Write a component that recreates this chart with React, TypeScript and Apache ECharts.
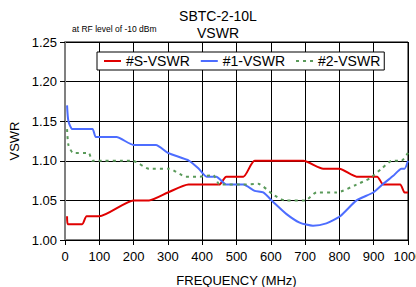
import React, { useEffect, useRef } from "react";
import * as echarts from "echarts";

const sFreq = [6, 8, 50, 63, 100, 200, 245, 300, 360, 400, 450, 470, 520, 553, 695, 753, 800, 850, 910, 928, 977, 990, 1000];
const sVswr = [1.03, 1.02, 1.02, 1.03, 1.03, 1.05, 1.05, 1.06, 1.07, 1.07, 1.07, 1.08, 1.08, 1.10, 1.10, 1.09, 1.09, 1.08, 1.08, 1.07, 1.07, 1.06, 1.06];

const oneFreq = [6, 10, 22, 80, 90, 150, 200, 265, 300, 362, 390, 413, 441, 470, 520, 553, 578, 607, 645, 684, 723, 762, 802, 850, 899, 928, 957, 981, 990, 1000];
const oneVswr = [1.17, 1.15, 1.14, 1.14, 1.13, 1.13, 1.12, 1.12, 1.11, 1.10, 1.09, 1.08, 1.08, 1.07, 1.07, 1.062, 1.06, 1.048, 1.033, 1.022, 1.018, 1.021, 1.03, 1.05, 1.06, 1.071, 1.081, 1.09, 1.09, 1.10];

const twoFreq = [6, 10, 24, 69, 80, 197, 245, 304, 352, 393, 432, 451, 520, 563, 605, 640, 700, 733, 792, 850, 889, 923, 953, 981, 1000];
const twoVswr = [1.14, 1.12, 1.11, 1.11, 1.10, 1.10, 1.09, 1.09, 1.08, 1.08, 1.082, 1.07, 1.07, 1.071, 1.058, 1.05, 1.05, 1.06, 1.06, 1.07, 1.078, 1.09, 1.10, 1.10, 1.11];

const titleLines = ["SBTC-2-10L", "VSWR"];
const subtitle = "at RF level of -10 dBm";

const pairs = (xs: number[], ys: number[]) => xs.map((x, i) => [x, ys[i]]);

export default function App() {
  const ref = useRef<HTMLDivElement>(null);
  useEffect(() => {
    const chart = echarts.init(ref.current!, null, { renderer: "svg" });
    const font = "Liberation Sans, Arial, sans-serif";
    chart.setOption({
      animation: false,
      textStyle: { fontFamily: font },
      graphic: [
        {
          type: "text",
          x: 218,
          y: 16,
          style: { text: titleLines[0], font: `14px ${font}`, fill: "#000", textAlign: "center", textVerticalAlign: "middle" },
        },
        {
          type: "text",
          x: 218,
          y: 33,
          style: { text: titleLines[1], font: `14px ${font}`, fill: "#000", textAlign: "center", textVerticalAlign: "middle" },
        },
        {
          type: "text",
          x: 72,
          y: 29,
          style: { text: subtitle, font: `8.5px ${font}`, fill: "#000", textAlign: "left", textVerticalAlign: "middle" },
        },
      ],
      legend: {
        left: 97,
        top: 52,
        padding: [2, 4, 2, 6],
        itemGap: 10,
        itemWidth: 17,
        itemHeight: 2,
        borderColor: "#000",
        borderWidth: 1,
        borderRadius: 0,
        backgroundColor: "#fff",
        textStyle: { fontSize: 14, color: "#000", fontFamily: font, padding: [0, 0, 0, 0] },
        data: ["#S-VSWR", "#1-VSWR", "#2-VSWR"],
      },
      grid: { left: 65, right: 8, top: 42, bottom: 47, show: true, borderColor: "#000", borderWidth: 1, outerBoundsMode: "none", containLabel: false },
      xAxis: {
        type: "value",
        min: 0,
        max: 1000,
        interval: 100,
        name: "FREQUENCY (MHz)",
        nameLocation: "middle",
        nameGap: 34,
        nameTextStyle: { fontSize: 13, color: "#000", fontFamily: font },
        axisLine: { lineStyle: { color: "#000" } },
        axisTick: { show: true, lineStyle: { color: "#000" } },
        axisLabel: { fontSize: 13, color: "#000", fontFamily: font, margin: 10, formatter: (v: number) => String(v) },
        splitLine: { show: true, lineStyle: { color: "#000", width: 1 } },
      },
      yAxis: {
        type: "value",
        min: 1.0,
        max: 1.25,
        interval: 0.05,
        name: "VSWR",
        nameLocation: "middle",
        nameGap: 38,
        nameTextStyle: { fontSize: 13, color: "#000", fontFamily: font },
        axisLine: { show: true, lineStyle: { color: "#808080", width: 2 } },
        axisTick: { show: true, lineStyle: { color: "#000" } },
        axisLabel: { fontSize: 13, color: "#000", fontFamily: font, formatter: (v: number) => v.toFixed(2) },
        splitLine: { show: true, lineStyle: { color: "#000", width: 1 } },
      },
      series: [
        {
          name: "#S-VSWR",
          type: "line",
          data: pairs(sFreq, sVswr),
          symbol: "none",
          smooth: 0.2,
          lineStyle: { color: "#e00000", width: 2 },
          itemStyle: { color: "#e00000" },
        },
        {
          name: "#1-VSWR",
          type: "line",
          data: pairs(oneFreq, oneVswr),
          symbol: "none",
          smooth: 0.2,
          lineStyle: { color: "#4d6dff", width: 2 },
          itemStyle: { color: "#4d6dff" },
        },
        {
          name: "#2-VSWR",
          type: "line",
          data: pairs(twoFreq, twoVswr),
          symbol: "none",
          smooth: 0.2,
          lineStyle: { color: "#5a9a5a", width: 2, type: [3, 4] },
          itemStyle: { color: "#5a9a5a" },
        },
      ],
    });
    return () => chart.dispose();
  }, []);
  return <div ref={ref} style={{ width: 416, height: 287, position: "absolute", left: 0, top: 0 }} />;
}
